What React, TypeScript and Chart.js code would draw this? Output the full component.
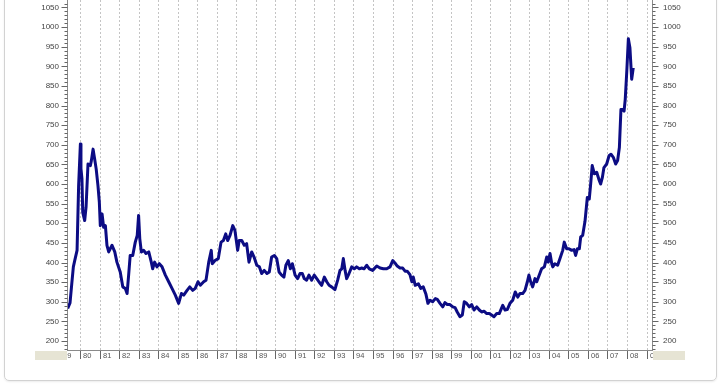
import React, { useEffect, useRef } from "react";
import { Chart, registerables } from "chart.js";

Chart.register(...registerables);

// Decimal year of each observation
const years = [
  1979.37, 1979.49, 1979.58, 1979.66, 1979.73, 1979.85, 1979.93, 1980.02, 1980.05, 1980.1,
  1980.14, 1980.24, 1980.31, 1980.41, 1980.53, 1980.58, 1980.67, 1980.75, 1980.83, 1980.92,
  1980.99, 1981.04, 1981.13, 1981.21, 1981.3, 1981.38, 1981.47, 1981.64, 1981.78, 1981.89,
  1982.06, 1982.19, 1982.32, 1982.41, 1982.49, 1982.57, 1982.7, 1982.83, 1982.93, 1983.0,
  1983.06, 1983.14, 1983.26, 1983.38, 1983.52, 1983.65, 1983.72, 1983.82, 1983.94, 1984.06,
  1984.2, 1984.37, 1984.54, 1984.71, 1984.88, 1985.05, 1985.19, 1985.31, 1985.48, 1985.62,
  1985.77, 1985.9, 1986.04, 1986.16, 1986.33, 1986.45, 1986.59, 1986.72, 1986.77, 1986.91,
  1987.08, 1987.22, 1987.34, 1987.46, 1987.56, 1987.68, 1987.82, 1987.93, 1988.07, 1988.15,
  1988.28, 1988.41, 1988.53, 1988.65, 1988.79, 1988.91, 1989.05, 1989.18, 1989.3, 1989.43,
  1989.57, 1989.69, 1989.81, 1989.95, 1990.07, 1990.19, 1990.32, 1990.44, 1990.54, 1990.66,
  1990.77, 1990.87, 1991.01, 1991.14, 1991.26, 1991.38, 1991.48, 1991.6, 1991.72, 1991.86,
  1991.99, 1992.12, 1992.23, 1992.37, 1992.51, 1992.63, 1992.75, 1992.88, 1993.05, 1993.19,
  1993.31, 1993.4, 1993.48, 1993.57, 1993.65, 1993.77, 1993.91, 1994.04, 1994.16, 1994.3,
  1994.42, 1994.54, 1994.68, 1994.81, 1994.98, 1995.19, 1995.36, 1995.53, 1995.7, 1995.87,
  1996.01, 1996.12, 1996.24, 1996.38, 1996.52, 1996.64, 1996.75, 1996.89, 1996.99, 1997.06,
  1997.16, 1997.32, 1997.44, 1997.57, 1997.71, 1997.81, 1997.92, 1998.05, 1998.19, 1998.29,
  1998.43, 1998.57, 1998.68, 1998.8, 1998.94, 1999.08, 1999.2, 1999.31, 1999.45, 1999.57,
  1999.67, 1999.79, 1999.93, 2000.05, 2000.17, 2000.31, 2000.44, 2000.56, 2000.68, 2000.82,
  2000.95, 2001.07, 2001.19, 2001.33, 2001.46, 2001.64, 2001.76, 2001.87, 2002.01, 2002.15,
  2002.28, 2002.41, 2002.52, 2002.66, 2002.78, 2002.9, 2002.98, 2003.07, 2003.17, 2003.29,
  2003.38, 2003.51, 2003.63, 2003.77, 2003.89, 2003.97, 2004.06, 2004.15, 2004.2, 2004.31,
  2004.45, 2004.57, 2004.71, 2004.79, 2004.91, 2005.03, 2005.17, 2005.29, 2005.37, 2005.46,
  2005.56, 2005.63, 2005.73, 2005.85, 2005.97, 2006.07, 2006.14, 2006.22, 2006.33, 2006.45,
  2006.58, 2006.65, 2006.74, 2006.82, 2006.96, 2007.08, 2007.18, 2007.3, 2007.42, 2007.52,
  2007.61, 2007.69, 2007.78, 2007.85, 2007.91, 2007.99, 2008.07, 2008.15, 2008.24, 2008.32,
];

const prices = [
  283, 297, 346, 389, 405, 431, 596, 702, 639, 614,
  528, 507, 541, 651, 647, 659, 689, 664, 638, 596,
  554, 494, 524, 490, 494, 444, 427, 444, 427, 401,
  376, 338, 334, 321, 368, 418, 418, 452, 469, 520,
  461, 427, 431, 423, 427, 401, 384, 401, 389, 397,
  389, 368, 351, 334, 317, 296, 321, 317, 329, 338,
  329, 334, 351, 342, 351, 355, 401, 431, 397, 405,
  410, 452, 456, 473, 456, 469, 494, 482, 431, 456,
  456, 444, 448, 401, 427, 414, 393, 389, 372, 380,
  372, 376, 414, 418, 410, 376, 368, 363, 393, 405,
  384, 397, 368, 359, 372, 372, 359, 355, 368, 355,
  368, 359, 351, 342, 363, 351, 342, 338, 331, 355,
  380, 384, 410, 380, 359, 372, 389, 384, 389, 384,
  386, 384, 393, 384, 380, 391, 386, 384, 384, 389,
  405, 399, 391, 386, 386, 378, 378, 369, 351, 363,
  342, 346, 334, 338, 319, 296, 304, 300, 308, 306,
  296, 287, 298, 293, 293, 287, 285, 274, 262, 266,
  300, 296, 287, 293, 279, 287, 279, 274, 276, 270,
  270, 266, 262, 270, 270, 291, 279, 280, 296, 304,
  325, 312, 321, 321, 329, 351, 368, 351, 338, 359,
  351, 368, 384, 389, 414, 401, 423, 397, 389, 397,
  393, 410, 431, 452, 435, 435, 431, 433, 418, 435,
  435, 465, 469, 505, 566, 562, 600, 647, 626, 630,
  609, 600, 617, 642, 651, 672, 676, 668, 651, 660,
  693, 790, 790, 786, 816, 888, 970, 947, 867, 896,
];

// Axis ticks
const yearTicks = [
  1979, 1980, 1981, 1982, 1983, 1984, 1985, 1986, 1987, 1988, 1989, 1990, 1991, 1992, 1993,
  1994, 1995, 1996, 1997, 1998, 1999, 2000, 2001, 2002, 2003, 2004, 2005, 2006, 2007, 2008, 2009,
];
const yMajorTicks = [200, 250, 300, 350, 400, 450, 500, 550, 600, 650, 700, 750, 800, 850, 900, 950, 1000, 1050];
const yMinorTicks: number[] = [];
for (let v = 180; v <= 1060; v += 10) yMinorTicks.push(v);

const X_MIN = 1979.335;
const X_MAX = 2009.28;
const Y_MIN = 177.1;
const Y_MAX = 1069;

const axesPlugin = {
  id: "customAxes",
  beforeDatasetsDraw(chart: any) {
    const { ctx, chartArea: a } = chart;
    const xs = chart.scales.x;
    ctx.save();
    ctx.strokeStyle = "#c4c4c4";
    ctx.lineWidth = 1;
    ctx.setLineDash([2, 2]);
    for (const yr of yearTicks) {
      const px = Math.round(xs.getPixelForValue(yr)) + 0.5;
      if (px <= a.left + 1 || px >= a.right - 1) continue;
      ctx.beginPath();
      ctx.moveTo(px, a.top);
      ctx.lineTo(px, a.bottom);
      ctx.stroke();
    }
    ctx.restore();
  },
  afterDraw(chart: any) {
    const { ctx, chartArea: a } = chart;
    const xs = chart.scales.x;
    const ys = chart.scales.y;
    ctx.save();
    ctx.setLineDash([]);
    // axis lines
    ctx.strokeStyle = "#8a8a8a";
    ctx.lineWidth = 1;
    ctx.beginPath();
    ctx.moveTo(a.left + 0.5, a.top);
    ctx.lineTo(a.left + 0.5, a.bottom + 1);
    ctx.moveTo(a.right + 0.5, a.top);
    ctx.lineTo(a.right + 0.5, a.bottom + 1);
    ctx.moveTo(a.left, a.bottom + 0.5);
    ctx.lineTo(a.right + 1, a.bottom + 0.5);
    ctx.stroke();

    // y ticks
    ctx.strokeStyle = "#666";
    ctx.beginPath();
    for (const v of yMinorTicks) {
      const py = Math.round(ys.getPixelForValue(v)) + 0.5;
      const major = v % 50 === 0;
      const len = major ? 6 : 3;
      ctx.moveTo(a.left + 0.5 - len, py);
      ctx.lineTo(a.left + 0.5, py);
      ctx.moveTo(a.right + 0.5, py);
      ctx.lineTo(a.right + 0.5 + len, py);
    }
    ctx.stroke();

    ctx.fillStyle = "#444";
    ctx.font = "8px 'Liberation Sans', Arial, sans-serif";
    ctx.textBaseline = "middle";
    for (const v of yMajorTicks) {
      const py = ys.getPixelForValue(v);
      ctx.textAlign = "right";
      ctx.fillText(String(v), a.left - 8, py);
      ctx.textAlign = "left";
      ctx.fillText(String(v), a.right + 11, py);
    }

    // x ticks and labels
    ctx.font = "7.5px 'Liberation Sans', Arial, sans-serif";
    ctx.textAlign = "left";
    ctx.fillStyle = "#555";
    ctx.strokeStyle = "#666";
    for (const yr of yearTicks) {
      const px = Math.round(xs.getPixelForValue(yr)) + 0.5;
      if (px >= a.left && px <= a.right + 1) {
        ctx.beginPath();
        ctx.moveTo(px, a.bottom + 1);
        ctx.lineTo(px, a.bottom + 9);
        ctx.stroke();
      }
      const lbl = String(yr % 100).padStart(2, "0");
      ctx.fillText(lbl, px + 2.5, a.bottom + 5.5);
    }
    // beige boxes covering the ends
    ctx.fillStyle = "#e6e4d4";
    ctx.fillRect(35, a.bottom + 1, a.left - 35, 9);
    ctx.fillRect(a.right + 1, a.bottom + 1, 32, 9);
    ctx.restore();
  },
};

export default function App() {
  const ref = useRef<HTMLCanvasElement | null>(null);
  useEffect(() => {
    if (!ref.current) return;
    const chart = new Chart(ref.current, {
      type: "line",
      data: {
        datasets: [
          {
            data: years.map((x, i) => ({ x, y: prices[i] })),
            borderColor: "#0c0c84",
            borderWidth: 3,
            pointRadius: 0,
            tension: 0,
            fill: false,
            borderJoinStyle: "round",
          },
        ],
      },
      options: {
        animation: false,
        responsive: false,
        devicePixelRatio: 1,
        layout: { padding: { left: 67, right: 69, top: 0, bottom: 38 } },
        plugins: { legend: { display: false }, tooltip: { enabled: false } },
        scales: {
          x: { type: "linear", min: X_MIN, max: X_MAX, display: false },
          y: { type: "linear", min: Y_MIN, max: Y_MAX, display: false },
        },
      },
      plugins: [axesPlugin],
    } as any);
    return () => chart.destroy();
  }, []);

  return (
    <div style={{ position: "absolute", left: 0, top: 0, width: 721, height: 388, background: "#fff", overflow: "hidden" }}>
      <div
        style={{
          position: "absolute",
          left: 4,
          top: -10,
          width: 711,
          height: 389,
          border: "1px solid #d2d2d2",
          borderRadius: 5,
          boxShadow: "0 1px 2px rgba(0,0,0,0.08)",
        }}
      />
      <canvas ref={ref} width={721} height={388} style={{ position: "absolute", left: 0, top: 0, width: 721, height: 388 }} />
    </div>
  );
}
